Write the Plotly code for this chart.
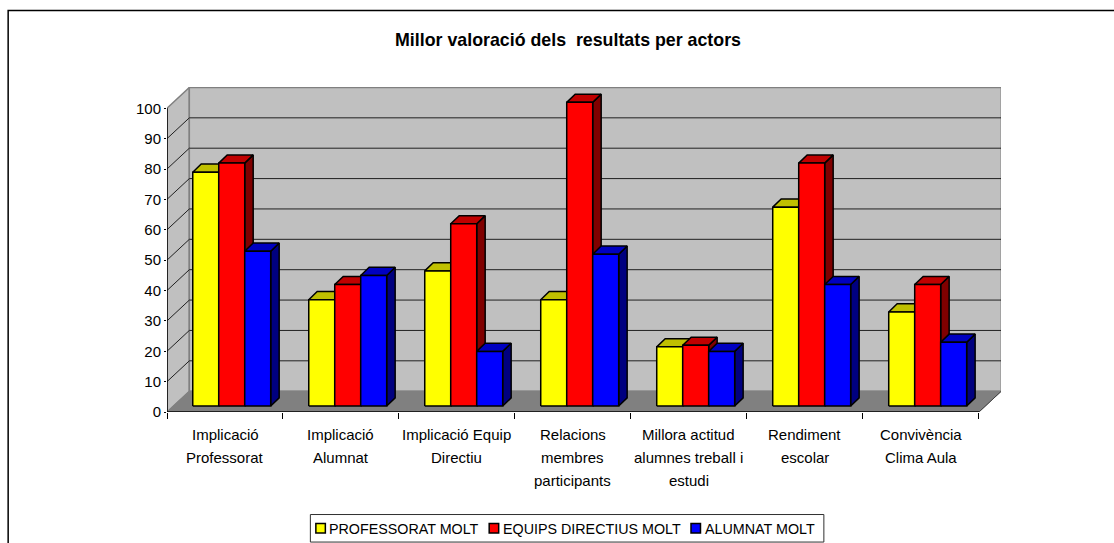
import plotly.graph_objects as go

WIDTH, HEIGHT = 1114, 543

TITLE = "Millor valoració dels\u00a0 resultats per actors"
CATEGORIES = [
    ["Implicació", "Professorat"],
    ["Implicació", "Alumnat"],
    ["Implicació Equip", "Directiu"],
    ["Relacions", "membres", "participants"],
    ["Millora actitud", "alumnes treball i", "estudi"],
    ["Rendiment", "escolar"],
    ["Convivència", "Clima Aula"],
]
PROFESSORAT = [77, 35, 44.5, 35, 19.5, 65.5, 31]
EQUIPS = [80, 40, 60, 100, 20, 80, 40]
ALUMNAT = [51, 43, 18, 50, 18, 40, 21]
Y_TICKS = list(range(0, 101, 10))

SERIES = [
    ("PROFESSORAT MOLT", PROFESSORAT, "#FFFF00", "#C0C000", "#808000", 315.5, 329),
    ("EQUIPS DIRECTIUS MOLT", EQUIPS, "#FF0000", "#C00000", "#800000", 489, 503),
    ("ALUMNAT MOLT", ALUMNAT, "#0000FF", "#0000C0", "#000080", 691, 705),
]

# pixel frame of the plot area
LEFT, RIGHT, TOP, BOTTOM = 166.5, 1001.3, 87.0, 411.6
X_MAX, Y_MAX = 7.19, 107.0
# fake 3D depth, in axis units
WALL_DX, WALL_DY = 0.1925, 6.85
BAR_DX, BAR_DY = 0.058, 1.95
DEPTH_DX, DEPTH_DY = 0.073, 2.7
BAR_W = 0.224

FONT = "Liberation Sans"


def px_x(x):
    return (x - LEFT) / (RIGHT - LEFT)


def px_y(y):
    return (BOTTOM - y) / (BOTTOM - TOP)


def polygon(fig, xs, ys, fill, line="black", width=1.5):
    fig.add_trace(go.Scatter(
        x=xs + xs[:1], y=ys + ys[:1], mode="lines", fill="toself", fillcolor=fill,
        line=dict(color=line, width=width), cliponaxis=False,
        hoverinfo="skip", showlegend=False,
    ))


def polyline(fig, xs, ys, color, width=1):
    fig.add_trace(go.Scatter(
        x=xs, y=ys, mode="lines", line=dict(color=color, width=width),
        cliponaxis=False, hoverinfo="skip", showlegend=False,
    ))


fig = go.Figure()

# walls and floor
polygon(fig, [0, WALL_DX, WALL_DX, 0], [0, WALL_DY, 100 + WALL_DY, 100], "#C0C0C0", "#808080")
polygon(fig, [WALL_DX, 7 + WALL_DX, 7 + WALL_DX, WALL_DX],
        [WALL_DY, WALL_DY, 100 + WALL_DY, 100 + WALL_DY], "#C0C0C0", "#808080")
polygon(fig, [0, 7, 7 + WALL_DX, WALL_DX], [0, 0, WALL_DY, WALL_DY], "#808080", "#808080", 1)

for t in Y_TICKS[1:-1]:
    polyline(fig, [0, WALL_DX, 7 + WALL_DX], [t, t + WALL_DY, t + WALL_DY], "#202020")

# axis lines
polyline(fig, [0, 0, 7], [100, 0, 0], "black", 1.5)
polyline(fig, [7, 7 + WALL_DX], [0, WALL_DY], "#404040", 1)

# bars, left to right so each one hides the side of the previous one
for i in range(len(CATEGORIES)):
    for s, (name, values, front, top, side, _, _) in enumerate(SERIES):
        x0 = i + 0.5 + BAR_DX + (s - 1.5) * BAR_W
        x1 = x0 + BAR_W
        y0 = BAR_DY
        y1 = BAR_DY + values[i]
        polygon(fig, [x1, x1 + DEPTH_DX, x1 + DEPTH_DX, x1],
                [y0, y0 + DEPTH_DY, y1 + DEPTH_DY, y1], side)
        polygon(fig, [x0, x1, x1 + DEPTH_DX, x0 + DEPTH_DX],
                [y1, y1, y1 + DEPTH_DY, y1 + DEPTH_DY], top)
        polygon(fig, [x0, x1, x1, x0], [y0, y0, y1, y1], front)

annotations = []
for i, lines in enumerate(CATEGORIES):
    for j, line in enumerate(lines):
        annotations.append(dict(
            x=i + 0.5, y=0, xref="x", yref="y", yshift=-22.5 - 23 * j,
            text=line, showarrow=False, xanchor="center", yanchor="middle",
            font=dict(family=FONT, size=15, color="black"),
        ))

shapes = [
    # chart frame, cut by the right and bottom edges of the image
    dict(type="path", xref="paper", yref="paper", layer="above",
         path=f"M {px_x(7.5)} {px_y(HEIGHT + 5)} L {px_x(7.5)} {px_y(10.5)} L {px_x(WIDTH + 5)} {px_y(10.5)}",
         line=dict(color="black", width=1.5)),
    # legend box
    dict(type="rect", xref="paper", yref="paper",
         x0=px_x(310), x1=px_x(824), y0=px_y(541.5), y1=px_y(514),
         line=dict(color="#303030", width=1), fillcolor="white"),
]

for name, values, front, top, side, swatch_x, text_x in SERIES:
    shapes.append(dict(
        type="rect", xref="paper", yref="paper",
        x0=px_x(swatch_x), x1=px_x(swatch_x + 9.5), y0=px_y(532.5), y1=px_y(523),
        line=dict(color="black", width=1.5), fillcolor=front,
    ))
    annotations.append(dict(
        x=px_x(text_x), y=px_y(528), xref="paper", yref="paper",
        text=name, showarrow=False, xanchor="left", yanchor="middle",
        xshift=-2, font=dict(family=FONT, size=14.3, color="black"),
    ))

fig.update_layout(
    width=WIDTH,
    height=HEIGHT,
    margin=dict(l=LEFT, r=WIDTH - RIGHT, t=TOP, b=HEIGHT - BOTTOM, autoexpand=False),
    paper_bgcolor="white",
    plot_bgcolor="white",
    showlegend=False,
    title=dict(
        text=f"<b>{TITLE}</b>", x=568 / WIDTH, y=1 - 40 / HEIGHT,
        xanchor="center", yanchor="middle", xref="container", yref="container",
        font=dict(family=FONT, size=17.8, color="black"),
    ),
    annotations=annotations,
    shapes=shapes,
)
fig.update_xaxes(
    range=[0, X_MAX], tickvals=list(range(8)), ticktext=[""] * 8, ticks="outside",
    ticklen=6, tickcolor="black", tickwidth=1, showgrid=False, zeroline=False,
    showline=False,
)
fig.update_yaxes(
    range=[0, Y_MAX], tickvals=Y_TICKS, ticks="outside", ticklen=2, tickcolor="black",
    tickwidth=1, showgrid=False, zeroline=False, showline=False,
    tickfont=dict(family=FONT, size=15, color="black"),
)
# the long tick marks of the value axis, the short ones above only set the label gap
for t in Y_TICKS:
    polyline(fig, [-0.043, 0], [t, t], "black")

fig.write_html(
    "out.html",
    config=dict(displayModeBar=False),
    post_script="document.body.style.margin='0';document.documentElement.style.overflow='hidden';",
)
